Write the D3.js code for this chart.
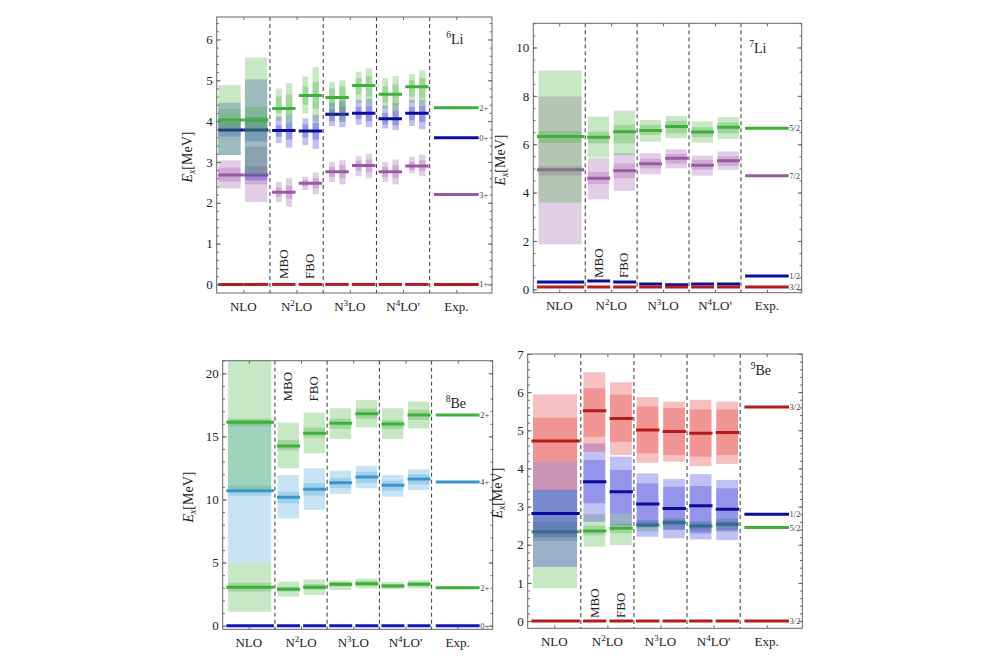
<!DOCTYPE html>
<html>
<head>
<meta charset="utf-8">
<script src="https://cdnjs.cloudflare.com/ajax/libs/d3/7.8.5/d3.min.js"></script>
<style>
  body { margin: 0; background: #fff; }
  svg, svg text { font-family: "Liberation Serif", "DejaVu Serif", serif; }
  svg text { fill: #222; }
  rect.frame { fill: none; stroke: #666; stroke-width: 1; }
  line.divider { stroke: #222; stroke-width: 0.9; stroke-dasharray: 4 3; }
  .ax path.domain { display: none; }
  .ax line { stroke: #666; }
</style>
</head>
<body>
<svg width="1000" height="666" font-family="Liberation Serif, DejaVu Serif, serif"></svg>
<script>
// ---- column labels
var orderLabels = [["N", "", "LO"], ["N", "2", "LO"], ["N", "3", "LO"], ["N", "4", "LO'"], ["Exp.", "", ""]];

// ---- 6Li  (NLO x2, N2LO MBO/FBO, N3LO x2, N4LO' x2)
var li6Exp = [0, 2.20, 3.59, 4.33];
var li6Spin = ["1+", "3+", "0+", "2+"];
var li6Gs = [0, 0, 0, 0, 0, 0, 0, 0];
var li6_3p = [2.68, 2.68, 2.26, 2.48, 2.76, 2.91, 2.76, 2.90];
var li6_3pBands = [
  [[2.35, 2.52, 2.86, 3.04]],
  [[2.02, 2.45, 2.90, 3.37]],
  [[2.02, 2.15, 2.38, 2.51], [1.90, 2.10, 2.42, 2.60]],
  [[2.31, 2.40, 2.56, 2.64], [2.21, 2.35, 2.60, 2.74]],
  [[2.51, 2.63, 2.88, 3.00], [2.45, 2.60, 2.92, 3.05]],
  [[2.65, 2.78, 3.03, 3.14], [2.60, 2.75, 3.06, 3.20]],
  [[2.51, 2.63, 2.88, 3.00], [2.45, 2.60, 2.92, 3.06]],
  [[2.72, 2.80, 3.00, 3.13], [2.65, 2.78, 3.04, 3.18]]
];
var li6_0p = [3.78, 3.78, 3.77, 3.76, 4.17, 4.19, 4.06, 4.19];
var li6_0pBands = [
  [[3.17, 3.62, 3.98, 4.45]],
  [[2.55, 3.50, 4.10, 5.02]],
  [[3.46, 3.62, 3.90, 4.11], [3.35, 3.55, 3.95, 4.15]],
  [[3.41, 3.60, 3.92, 4.07], [3.32, 3.55, 3.95, 4.15]],
  [[3.88, 4.00, 4.30, 4.44], [3.85, 3.98, 4.35, 4.50]],
  [[3.91, 4.05, 4.35, 4.52], [3.85, 4.00, 4.38, 4.55]],
  [[3.82, 3.92, 4.20, 4.39], [3.78, 3.90, 4.25, 4.44]],
  [[3.88, 4.02, 4.35, 4.52], [3.80, 3.98, 4.38, 4.52]]
];
var li6_2p = [4.03, 4.03, 4.31, 4.63, 4.58, 4.87, 4.66, 4.84];
var li6_2pBands = [
  [[3.17, 3.80, 4.30, 4.88]],
  [[2.68, 3.75, 4.35, 5.56]],
  [[4.00, 4.20, 4.60, 4.80], [3.95, 4.15, 4.65, 4.93]],
  [[4.19, 4.40, 4.85, 5.09], [3.99, 4.30, 4.95, 5.32]],
  [[4.15, 4.35, 4.80, 4.95], [4.10, 4.30, 4.85, 5.00]],
  [[4.45, 4.65, 5.05, 5.21], [4.40, 4.60, 5.10, 5.29]],
  [[4.30, 4.45, 4.85, 5.05], [4.25, 4.40, 4.90, 5.10]],
  [[4.45, 4.60, 5.00, 5.15], [4.40, 4.55, 5.05, 5.24]]
];

// ---- 7Li  (NLO, N2LO MBO/FBO, N3LO x2, N4LO' x2)
var li7Exp = [0.1, 0.55, 4.70, 6.66];
var li7Spin = ["3/2", "1/2", "7/2", "5/2"];
var li7Gs = [0.1, 0.1, 0.1, 0.1, 0.1, 0.1, 0.1];
var li7_1h = [0.30, 0.34, 0.30, 0.22, 0.19, 0.22, 0.22];
var li7_7h = [4.94, 4.59, 4.90, 5.19, 5.42, 5.13, 5.32];
var li7_7hBands = [
  [[1.86, 4.70, 5.10, 7.97]], [[3.72, 4.35, 4.85, 5.42]], [[4.07, 4.60, 5.20, 5.63]],
  [[4.76, 5.00, 5.40, 5.63]], [[5.00, 5.20, 5.60, 5.79]], [[4.70, 4.95, 5.35, 5.53]],
  [[4.94, 5.10, 5.50, 5.70]]
];
var li7_5h = [6.32, 6.29, 6.52, 6.57, 6.73, 6.51, 6.70];
var li7_5hBands = [
  [[3.59, 6.05, 6.55, 9.05]], [[5.45, 6.04, 6.52, 7.14]], [[5.55, 6.04, 6.80, 7.39]],
  [[6.11, 6.39, 6.80, 7.00]], [[6.25, 6.45, 6.95, 7.17]], [[6.07, 6.30, 6.70, 6.94]],
  [[6.22, 6.45, 6.90, 7.12]]
];

// ---- 8Be
var be8Exp = [0, 3.01, 11.39, 16.70];
var be8Spin = ["0+", "2+", "4+", "2+"];
var be8Gs = [0, 0, 0, 0, 0, 0, 0];
var be8_2a = [3.04, 2.88, 3.04, 3.28, 3.33, 3.14, 3.28];
var be8_2aBands = [
  [[1.10, 2.70, 3.40, 4.99]], [[2.30, 2.70, 3.10, 3.49]], [[2.43, 2.85, 3.30, 3.67]],
  [[2.83, 3.10, 3.45, 3.57]], [[2.96, 3.15, 3.55, 3.73]], [[2.90, 3.00, 3.30, 3.45]],
  [[2.96, 3.10, 3.45, 3.60]]
];
var be8_4 = [10.70, 10.17, 10.81, 11.33, 11.78, 11.12, 11.62];
var be8_4Bands = [
  [[4.99, 10.30, 11.10, 16.30]], [[8.50, 9.70, 10.60, 11.94]], [[9.17, 10.30, 11.30, 12.47]],
  [[10.44, 10.90, 11.70, 12.29]], [[10.89, 11.30, 12.20, 12.66]], [[10.22, 10.70, 11.50, 11.94]],
  [[10.75, 11.20, 12.00, 12.39]]
];
var be8_2b = [16.12, 14.24, 15.24, 16.04, 16.80, 15.98, 16.70];
var be8_2bBands = [
  [[10.75, 15.80, 16.40, 22.0]], [[12.47, 13.90, 14.70, 16.09]], [[13.66, 14.90, 15.70, 16.88]],
  [[14.80, 15.60, 16.40, 17.23]], [[15.72, 16.40, 17.20, 17.89]], [[14.80, 15.60, 16.30, 17.23]],
  [[15.64, 16.30, 17.10, 17.75]]
];

// ---- 9Be
var be9Exp = [0, 2.45, 2.80, 5.61];
var be9Spin = ["3/2", "5/2", "1/2", "3/2"];
var be9Gs = [0, 0, 0, 0, 0, 0, 0];
var be9_5 = [2.34, 2.36, 2.43, 2.52, 2.58, 2.49, 2.54];
var be9_5Bands = [
  [[0.86, 2.10, 2.60, 3.44]], [[1.95, 2.25, 2.50, 2.80]], [[1.99, 2.30, 2.55, 2.82]],
  [[2.35, 2.45, 2.60, 2.65]], [[2.40, 2.50, 2.65, 2.70]], [[2.35, 2.42, 2.57, 2.62]],
  [[2.38, 2.47, 2.62, 2.68]]
];
var be9_1 = [2.82, 3.65, 3.39, 3.07, 2.95, 3.02, 2.93];
var be9_1Bands = [
  [[1.42, 2.20, 3.44, 4.18]], [[2.60, 3.09, 4.22, 4.66]], [[2.50, 2.82, 3.96, 4.31]],
  [[2.21, 2.47, 3.61, 3.87]], [[2.17, 2.39, 3.52, 3.72]], [[2.14, 2.30, 3.54, 3.85]],
  [[2.12, 2.35, 3.48, 3.70]]
];
var be9_3 = [4.72, 5.51, 5.31, 5.01, 4.97, 4.92, 4.94];
var be9_3Bands = [
  [[3.44, 4.18, 5.33, 5.94]], [[4.44, 4.83, 6.10, 6.52]], [[4.35, 4.70, 5.93, 6.26]],
  [[4.15, 4.40, 5.62, 5.87]], [[4.18, 4.35, 5.58, 5.75]], [[4.06, 4.31, 5.55, 5.80]],
  [[4.12, 4.35, 5.55, 5.75]]
];

// slot = [order column, sub column] ; sub -1 = one wide NLO box
var slots2 = [[0, 0], [0, 1], [1, 0], [1, 1], [2, 0], [2, 1], [3, 0], [3, 1]];
var slots1 = [[0, -1], [1, 0], [1, 1], [2, 0], [2, 1], [3, 0], [3, 1]];

var col = {
  red:    { line: "#b21c1c", fill: "#e0302e" },
  green:  { line: "#3fae3a", fill: "#45b03f" },
  blue:   { line: "#0c0c9c", fill: "#3030d8" },
  purple: { line: "#9a5aa3", fill: "#a05aac" },
  sky:    { line: "#3a96c8", fill: "#4aa3dc" },
  navy:   { line: "#1616b8", fill: "#1616b8" }
};

function lv(c, v, bands, exp, spin) { return { c: c, v: v, bands: bands, exp: exp, spin: spin }; }

var panels = [
  { frame: [216.7, 492, 17, 293], y: [-0.21, 6.55], major: 1, minor: 0.2, slots: slots2,
    tag: ["6", "Li"], tagX: 4.31, tagY: 44, boBottom: 279, yLabX: 192,
    levels: [lv(col.purple, li6_3p, li6_3pBands, li6Exp[1], li6Spin[1]),
             lv(col.blue, li6_0p, li6_0pBands, li6Exp[2], li6Spin[2]),
             lv(col.green, li6_2p, li6_2pBands, li6Exp[3], li6Spin[3]),
             lv(col.red, li6Gs, null, li6Exp[0], li6Spin[0])] },
  { frame: [533.3, 801.7, 23.3, 292.7], y: [-0.14, 11.0], major: 2, minor: 0.5, slots: slots1,
    tag: ["7", "Li"], tagX: 4.16, tagY: 53.3, boBottom: 278, yLabX: 505,
    levels: [lv(col.purple, li7_7h, li7_7hBands, li7Exp[2], li7Spin[2]),
             lv(col.green, li7_5h, li7_5hBands, li7Exp[3], li7Spin[3]),
             lv(col.blue, li7_1h, null, li7Exp[1], li7Spin[1]),
             lv(col.red, li7Gs, null, li7Exp[0], li7Spin[0])] },
  { frame: [222.7, 492.7, 360.7, 629.3], y: [-0.29, 21.0], major: 5, minor: 1, slots: slots1,
    tag: ["8", "Be"], tagX: 4.27, tagY: 408, boBottom: 401.5, yLabX: 193,
    levels: [lv(col.green, be8_2a, be8_2aBands, be8Exp[1], be8Spin[1]),
             lv(col.sky, be8_4, be8_4Bands, be8Exp[2], be8Spin[2]),
             lv(col.green, be8_2b, be8_2bBands, be8Exp[3], be8Spin[3]),
             lv(col.navy, be8Gs, null, be8Exp[0], be8Spin[0])] },
  { frame: [527.7, 802.3, 354, 628.3], y: [-0.19, 7.0], major: 1, minor: 0.2, slots: slots1,
    tag: ["9", "Be"], tagX: 4.2, tagY: 375, boBottom: 618, yLabX: 502,
    levels: [lv(col.green, be9_5, be9_5Bands, be9Exp[1], be9Spin[1]),
             lv(col.blue, be9_1, be9_1Bands, be9Exp[2], be9Spin[2]),
             lv(col.red, be9_3, be9_3Bands, be9Exp[3], be9Spin[3]),
             lv(col.red, be9Gs, null, be9Exp[0], be9Spin[0])] }
];

// horizontal geometry of one slot, in column units
function slotGeom(order, sub, nStrips) {
  var o = order;
  if (sub < 0) return { line: [o + 0.07, o + 0.98], strips: [[o + 0.1, o + 0.93]] };
  if (order === 0) return { line: [o + 0.03 + 0.47 * sub, o + 0.5 + 0.47 * sub],
                            strips: [[o + 0.03 + 0.5 * sub, o + 0.45 + 0.5 * sub]] };
  var a = o + 0.04 + 0.5 * sub;
  var strips = nStrips === 2 ? [[a + 0.07, a + 0.18], [a + 0.26, a + 0.38]] : [[a + 0.01, a + 0.42]];
  return { line: [a, a + 0.44], strips: strips };
}

var serif = "Liberation Serif, DejaVu Serif, serif";
var svg = d3.select("svg");
var defs = svg.append("defs");

panels.forEach(function (p, pi) {
  var f = p.frame;
  var xs = d3.scaleLinear().domain([0, 5.17]).range([f[0], f[1]]);
  var ys = d3.scaleLinear().domain(p.y).range([f[3], f[2]]);
  var g = svg.append("g").attr("font-family", serif);

  defs.append("clipPath").attr("id", "clip" + pi)
    .append("rect").attr("x", f[0]).attr("y", f[2]).attr("width", f[1] - f[0]).attr("height", f[3] - f[2]);
  var plot = g.append("g").attr("clip-path", "url(#clip" + pi + ")");

  // levels: bands first, then the line, state by state
  p.levels.forEach(function (L) {
    var rects = [];
    p.slots.forEach(function (s, k) {
      if (!L.bands) return;
      var geo = slotGeom(s[0], s[1], L.bands[k].length);
      L.bands[k].forEach(function (b, j) {
        rects.push({ x0: geo.strips[j][0], x1: geo.strips[j][1], lo: b[0], hi: b[3] });
        rects.push({ x0: geo.strips[j][0], x1: geo.strips[j][1], lo: b[1], hi: b[2] });
      });
    });
    plot.append("g").selectAll("rect").data(rects).enter().append("rect")
      .attr("x", function (d) { return xs(d.x0); })
      .attr("width", function (d) { return xs(d.x1) - xs(d.x0); })
      .attr("y", function (d) { return ys(d.hi); })
      .attr("height", function (d) { return ys(d.lo) - ys(d.hi); })
      .attr("fill", L.c.fill).attr("fill-opacity", 0.3);

    var segs = p.slots.map(function (s, k) {
      var geo = slotGeom(s[0], s[1], L.bands ? L.bands[k].length : 1);
      return { x0: geo.line[0], x1: geo.line[1], v: L.v[k] };
    });
    segs.push({ x0: 4.08, x1: 4.92, v: L.exp });
    plot.append("g").selectAll("line").data(segs).enter().append("line")
      .attr("x1", function (d) { return xs(d.x0); })
      .attr("x2", function (d) { return xs(d.x1); })
      .attr("y1", function (d) { return ys(d.v); })
      .attr("y2", function (d) { return ys(d.v); })
      .attr("stroke", L.c.line).attr("stroke-width", 3);

    g.append("text").attr("x", xs(4.93)).attr("y", ys(L.exp) + 3)
      .attr("font-size", 8.5).style("fill", "#444").text(L.spin);
  });

  // dashed column dividers
  g.selectAll("line.divider").data([1, 2, 3, 4]).enter().append("line")
    .attr("class", "divider")
    .attr("x1", function (d) { return xs(d); }).attr("x2", function (d) { return xs(d); })
    .attr("y1", f[2]).attr("y2", f[3]);

  // y axes (ticks inside on both sides)
  var majors = d3.range(0, p.y[1] + 1e-6, p.major);
  var minors = d3.range(0, p.y[1] + 1e-6, p.minor);
  var left = g.append("g").attr("class", "ax").attr("transform", "translate(" + f[0] + ",0)")
    .call(d3.axisLeft(ys).tickValues(majors).tickSize(-4).tickSizeOuter(0).tickPadding(4)
      .tickFormat(d3.format("d")));
  left.attr("font-family", serif).attr("font-size", 13);
  g.append("g").attr("class", "ax").attr("transform", "translate(" + f[0] + ",0)")
    .call(d3.axisLeft(ys).tickValues(minors).tickSize(-2.2).tickSizeOuter(0).tickFormat(""));
  g.append("g").attr("class", "ax").attr("transform", "translate(" + f[1] + ",0)")
    .call(d3.axisRight(ys).tickValues(majors).tickSize(-4).tickSizeOuter(0).tickFormat(""));
  g.append("g").attr("class", "ax").attr("transform", "translate(" + f[1] + ",0)")
    .call(d3.axisRight(ys).tickValues(minors).tickSize(-2.2).tickSizeOuter(0).tickFormat(""));
  var centers = [0.5, 1.5, 2.5, 3.5, 4.5];
  g.append("g").attr("class", "ax").attr("transform", "translate(0," + f[3] + ")")
    .call(d3.axisBottom(xs).tickValues(centers).tickSize(-3).tickSizeOuter(0).tickFormat(""));
  g.append("g").attr("class", "ax").attr("transform", "translate(0," + f[2] + ")")
    .call(d3.axisTop(xs).tickValues(centers).tickSize(-3).tickSizeOuter(0).tickFormat(""));

  g.append("rect").attr("class", "frame")
    .attr("x", f[0]).attr("y", f[2]).attr("width", f[1] - f[0]).attr("height", f[3] - f[2]);

  // column labels
  orderLabels.forEach(function (lab, i) {
    var t = g.append("text").attr("x", xs(i + 0.5)).attr("y", f[3] + 17.5)
      .attr("text-anchor", "middle").attr("font-size", 13);
    t.append("tspan").text(lab[0]);
    if (lab[1]) {
      t.append("tspan").attr("font-size", 9).attr("dy", -5).text(lab[1]);
      t.append("tspan").attr("dy", 5).text(lab[2]);
    } else if (lab[2]) {
      t.append("tspan").text(lab[2]);
    }
  });

  // MBO / FBO
  [["MBO", 1.25], ["FBO", 1.74]].forEach(function (m) {
    g.append("text").attr("font-size", 13)
      .attr("transform", "translate(" + (xs(m[1]) + 4.5) + "," + p.boBottom + ") rotate(-90)")
      .text(m[0]);
  });

  // nucleus tag
  var tg = g.append("text").attr("x", xs(p.tagX)).attr("y", p.tagY).attr("font-size", 14);
  tg.append("tspan").attr("font-size", 9.5).attr("dy", -6).text(p.tag[0]);
  tg.append("tspan").attr("dy", 6).text(p.tag[1]);

  // y label
  var yl = g.append("text").attr("text-anchor", "middle").attr("font-size", 14)
    .attr("transform", "translate(" + p.yLabX + "," + ((f[2] + f[3]) / 2 + 2) + ") rotate(-90)");
  yl.append("tspan").attr("font-style", "italic").text("E");
  yl.append("tspan").attr("font-size", 9.5).attr("font-style", "italic").attr("dy", 3).text("x");
  yl.append("tspan").attr("dy", -3).text("[MeV]");
});
</script>
</body>
</html>
